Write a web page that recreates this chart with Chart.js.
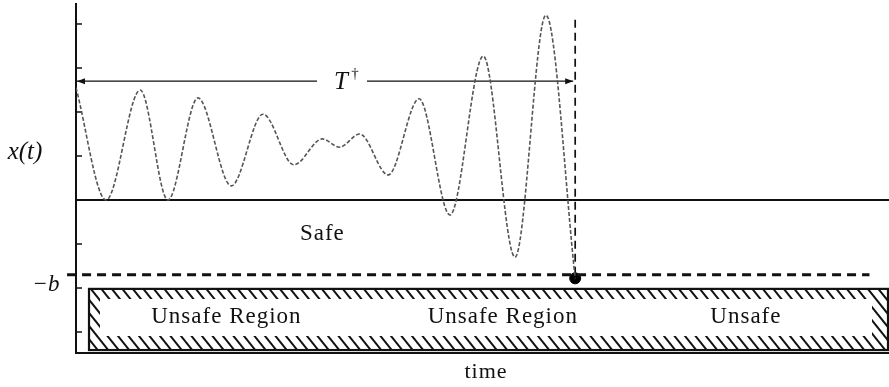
<!DOCTYPE html>
<html>
<head>
<meta charset="utf-8">
<title>x(t) against time</title>
<script src="https://cdn.jsdelivr.net/npm/chart.js@4"></script>
<style>
  html, body { margin: 0; padding: 0; background: #fff; }
  #chart { display: block; }
</style>
</head>
<body>
<canvas id="chart" width="889" height="387"></canvas>
<script>
'use strict';

// time (0-100) and x(t) at the crests and troughs of the trace
const waveT = [0, 3.7, 7.9, 11.3, 15.0, 19.1, 23.0, 26.8, 30.3, 32.4, 34.9, 38.4, 42.2, 46.0, 50.1, 54.0, 57.8, 61.4];
const waveX = [2.55, 0, 2.5, 0, 2.32, 0.32, 1.95, 0.8, 1.39, 1.2, 1.5, 0.57, 2.3, -0.34, 3.27, -1.3, 4.2, -1.78];

// levels and marks
const safeLevel = 0;
const bLevel = -1.7;
const hitT = 61.4;
const hitX = -1.78;
const arrowLevel = 2.7;
const dashTop = 4.2;
const yTicks = [-3, -2, -1, 0, 1, 2, 3, 4];

// hatched unsafe box
const unsafeStart = 1.6;
const unsafeEnd = 100;
const unsafeTop = -2.02;
const unsafeBottom = -3.41;
const regionLabels = ['Unsafe Region', 'Unsafe Region', 'Unsafe'];
const regionLabelT = [18.5, 52.5, 82.4];
const regionLabelX = -2.66;

const serif = '"Liberation Serif", "DejaVu Serif", serif';

// axes, ticks, hatched box and the T arrow
const sketch = {
  id: 'sketch',
  beforeDatasetsDraw(chart) {
    const {ctx, chartArea: a, scales: {x, y}} = chart;
    ctx.save();
    ctx.strokeStyle = '#111';
    ctx.lineWidth = 2;
    ctx.beginPath();
    ctx.moveTo(a.left, a.top);
    ctx.lineTo(a.left, a.bottom);
    ctx.lineTo(a.right, a.bottom);
    ctx.stroke();

    //Inward ticks on the y axis
    ctx.lineWidth = 1.5;
    yTicks.forEach(v => {
      const py = y.getPixelForValue(v);
      ctx.beginPath();
      ctx.moveTo(a.left, py);
      ctx.lineTo(a.left + 6, py);
      ctx.stroke();
    });

    //Box with hatching along its inner edges
    const x0 = x.getPixelForValue(unsafeStart);
    const x1 = x.getPixelForValue(unsafeEnd) - 1;
    const y0 = y.getPixelForValue(unsafeTop);
    const y1 = y.getPixelForValue(unsafeBottom);
    ctx.save();
    ctx.beginPath();
    ctx.rect(x0, y0, x1 - x0, y1 - y0);
    ctx.rect(x0 + 11, y0 + 10, x1 - x0 - 27, y1 - y0 - 24);
    ctx.clip('evenodd');
    ctx.lineWidth = 2;
    const h = y1 - y0;
    for (let k = x0 - h; k < x1 + 10; k += 10.5) {
      ctx.beginPath();
      ctx.moveTo(k, y0);
      ctx.lineTo(k + h * 0.8, y1);
      ctx.stroke();
    }
    ctx.restore();
    ctx.lineWidth = 2.2;
    ctx.strokeRect(x0, y0, x1 - x0, y1 - y0);

    //T arrow with a gap for its label
    const ay = y.getPixelForValue(arrowLevel);
    const ax0 = x.getPixelForValue(0) + 1;
    const ax1 = x.getPixelForValue(hitT) - 2;
    ctx.lineWidth = 1.3;
    ctx.beginPath();
    ctx.moveTo(ax0, ay);
    ctx.lineTo(317, ay);
    ctx.moveTo(367, ay);
    ctx.lineTo(ax1, ay);
    ctx.stroke();
    ctx.fillStyle = '#111';
    ctx.beginPath();
    ctx.moveTo(ax0, ay);
    ctx.lineTo(ax0 + 8, ay - 3);
    ctx.lineTo(ax0 + 8, ay + 3);
    ctx.closePath();
    ctx.moveTo(ax1, ay);
    ctx.lineTo(ax1 - 8, ay - 3);
    ctx.lineTo(ax1 - 8, ay + 3);
    ctx.closePath();
    ctx.fill();
    ctx.restore();
  },
  afterDatasetsDraw(chart) {
    const {ctx, scales: {x, y}} = chart;
    ctx.save();
    ctx.fillStyle = '#111';
    ctx.textAlign = 'center';
    ctx.textBaseline = 'middle';
    ctx.letterSpacing = '1px';
    ctx.font = '23px ' + serif;
    regionLabels.forEach((s, i) => {
      ctx.fillText(s, x.getPixelForValue(regionLabelT[i]), y.getPixelForValue(regionLabelX));
    });
    ctx.fillText('Safe', x.getPixelForValue(30.3), y.getPixelForValue(-0.77));
    ctx.font = '22px ' + serif;
    ctx.fillText('time', 486, 372);

    ctx.letterSpacing = '0px';
    ctx.font = 'italic 25px ' + serif;
    ctx.fillText('x(t)', 25, 152);
    ctx.fillText('T', 341, y.getPixelForValue(arrowLevel) + 1);
    ctx.font = 'italic 23px ' + serif;
    ctx.fillText('\u2212b', 46, 285);
    ctx.font = '15px ' + serif;
    ctx.fillText('\u2020', 355, y.getPixelForValue(arrowLevel) - 7);
    ctx.restore();
  }
};

const wave = waveT.map((t, i) => ({x: t, y: waveX[i]}));

new Chart(document.getElementById('chart'), {
  type: 'line',
  data: {
    datasets: [
      {
        data: wave,
        borderColor: '#555',
        borderWidth: 1.6,
        borderDash: [4, 2],
        cubicInterpolationMode: 'monotone',
        pointRadius: 0
      },
      {
        data: [{x: 0, y: safeLevel}, {x: 100, y: safeLevel}],
        borderColor: '#111',
        borderWidth: 2,
        pointRadius: 0
      },
      {
        data: [{x: -1.1, y: bLevel}, {x: 97.6, y: bLevel}],
        borderColor: '#111',
        borderWidth: 3,
        borderDash: [9, 6],
        pointRadius: 0,
        clip: false
      },
      {
        data: [{x: hitT, y: bLevel}, {x: hitT, y: dashTop}],
        borderColor: '#111',
        borderWidth: 1.7,
        borderDash: [8, 5],
        pointRadius: 0
      },
      {
        data: [{x: hitT, y: hitX}],
        showLine: false,
        pointRadius: 5.5,
        pointBackgroundColor: '#000',
        pointBorderColor: '#000'
      }
    ]
  },
  options: {
    responsive: false,
    animation: false,
    layout: {autoPadding: false, padding: {left: 76, top: 3, right: 0, bottom: 34}},
    plugins: {legend: {display: false}, tooltip: {enabled: false}},
    scales: {
      x: {type: 'linear', display: false, min: 0, max: 100},
      y: {display: false, min: -3.477, max: 4.477}
    }
  },
  plugins: [sketch]
});
</script>
</body>
</html>
